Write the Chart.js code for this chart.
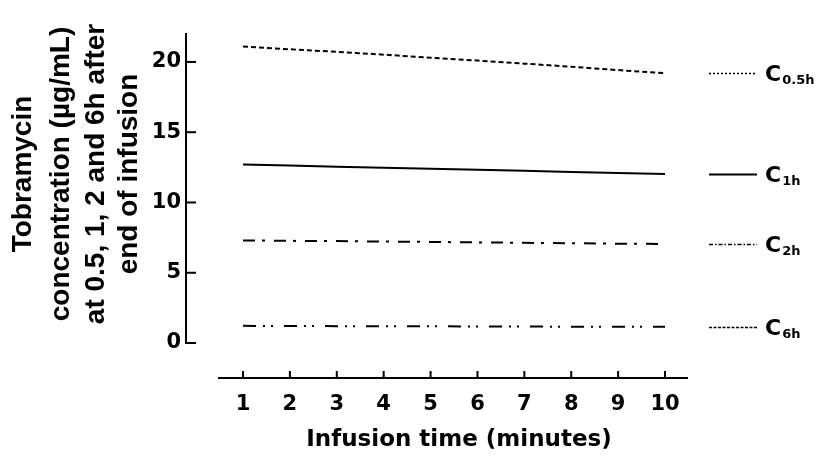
<!DOCTYPE html>
<html>
<head>
<meta charset="utf-8">
<script src="https://cdn.jsdelivr.net/npm/chart.js@4.4.1/dist/chart.umd.min.js"></script>
<style>
  html, body { margin: 0; padding: 0; background: #ffffff; }
  #wrap { width: 832px; height: 456px; }
</style>
</head>
<body>
<div id="wrap"><canvas id="chart" width="832" height="456"></canvas></div>
<script>
// Infusion time (minutes) on the x axis
const infusionMinutes = [1, 2, 3, 4, 5, 6, 7, 8, 9, 10];

// Tobramycin concentration (µg/mL) at each sampling time after end of infusion
const c05h = [21.1, 20.9, 20.72, 20.52, 20.3, 20.1, 19.88, 19.66, 19.42, 19.2];
const c1h  = [12.7, 12.63, 12.55, 12.48, 12.4, 12.33, 12.25, 12.17, 12.1, 12.02];
const c2h  = [7.3, 7.27, 7.25, 7.22, 7.19, 7.16, 7.13, 7.1, 7.07, 7.05];
const c6h  = [1.22, 1.21, 1.2, 1.2, 1.19, 1.18, 1.17, 1.16, 1.15, 1.15];

// Subscripts of the series labels (C with subscript)
const seriesSubscripts = ['0.5h', '1h', '2h', '6h'];

// Tick values
const xTickValues = [1, 2, 3, 4, 5, 6, 7, 8, 9, 10];
const yTickValues = [0, 5, 10, 15, 20];

// Axis titles
const xTitle = 'Infusion time (minutes)';
const yTitleLines = ['Tobramycin', 'concentration (\u00b5g/mL)', 'at 0.5, 1, 2 and 6h after', 'end of infusion'];

const seriesValues = [c05h, c1h, c2h, c6h];
const lineStyles = [
  { width: 2,   dash: [5, 3],               keyDash: [2, 2],          keyWidth: 1.5 },
  { width: 2,   dash: [],                   keyDash: [],              keyWidth: 2 },
  { width: 2,   dash: [12, 7, 3, 9],        keyDash: [4, 2, 1.5, 2],  keyWidth: 1.3 },
  { width: 2,   dash: [13, 7, 2, 6, 2, 11], keyDash: [3, 1.5],        keyWidth: 1.3 }
];

const TICK_FONT = { family: 'DejaVu Sans', weight: 'bold', size: 21 };

// Axis lines, inward tick marks, titles and the line key at the right
const decorations = {
  id: 'decorations',
  afterDraw(chart) {
    const ctx = chart.ctx;
    const xs = chart.scales.x, ys = chart.scales.y;
    const area = chart.chartArea;
    ctx.save();
    ctx.strokeStyle = '#000';
    ctx.fillStyle = '#000';
    ctx.lineWidth = 2;
    ctx.setLineDash([]);

    // y axis
    const yAxisX = area.left;
    ctx.beginPath();
    ctx.moveTo(yAxisX, area.top);
    ctx.lineTo(yAxisX, ys.getPixelForValue(0) + 1);
    ctx.stroke();
    yTickValues.forEach(v => {
      const py = ys.getPixelForValue(v);
      ctx.beginPath();
      ctx.moveTo(yAxisX, py);
      ctx.lineTo(yAxisX + 10, py);
      ctx.stroke();
    });

    // x axis (offset below the y axis)
    const xAxisY = area.bottom;
    ctx.beginPath();
    ctx.moveTo(area.left + 32, xAxisY);
    ctx.lineTo(area.right, xAxisY);
    ctx.stroke();
    xTickValues.forEach(v => {
      const px = xs.getPixelForValue(v);
      ctx.beginPath();
      ctx.moveTo(px, xAxisY);
      ctx.lineTo(px, xAxisY - 7);
      ctx.stroke();
    });

    // x title
    ctx.font = 'bold 23px "DejaVu Sans"';
    ctx.textAlign = 'center';
    ctx.textBaseline = 'middle';
    ctx.fillText(xTitle, 459, 440);

    // y title, rotated
    ctx.font = 'bold 28px "Liberation Sans"';
    ctx.textBaseline = 'alphabetic';
    const baselines = [31, 69, 104, 137];
    yTitleLines.forEach((line, i) => {
      ctx.save();
      ctx.translate(baselines[i], 174);
      ctx.rotate(-Math.PI / 2);
      ctx.fillText(line, 0, 0);
      ctx.restore();
    });

    // line key
    seriesValues.forEach((vals, i) => {
      const py = Math.round(ys.getPixelForValue(vals[vals.length - 1])) + 0.5;
      const st = lineStyles[i];
      ctx.lineWidth = st.keyWidth;
      ctx.setLineDash(st.keyDash);
      ctx.beginPath();
      ctx.moveTo(709, py);
      ctx.lineTo(757, py);
      ctx.stroke();
      ctx.setLineDash([]);
      ctx.textAlign = 'left';
      ctx.textBaseline = 'alphabetic';
      ctx.font = 'bold 22px "DejaVu Sans"';
      ctx.fillText('C', 765, py + 7.5);
      const cw = ctx.measureText('C').width;
      ctx.font = 'bold 13px "DejaVu Sans"';
      ctx.fillText(seriesSubscripts[i], 765 + cw + 1, py + 10.5);
    });
    ctx.restore();
  }
};

new Chart(document.getElementById('chart'), {
  type: 'line',
  data: {
    datasets: seriesValues.map((vals, i) => ({
      label: 'C' + seriesSubscripts[i],
      data: infusionMinutes.map((m, j) => ({ x: m, y: vals[j] })),
      borderColor: '#000',
      borderWidth: lineStyles[i].width,
      borderDash: lineStyles[i].dash,
      pointRadius: 0,
      fill: false,
      tension: 0
    }))
  },
  options: {
    responsive: false,
    animation: false,
    devicePixelRatio: 1,
    layout: { padding: { left: 0, right: 144, top: 33, bottom: 0 } },
    plugins: { legend: { display: false }, tooltip: { enabled: false } },
    scales: {
      x: {
        type: 'linear',
        min: -0.2156,
        max: 10.49,
        afterBuildTicks: s => { s.ticks = xTickValues.map(v => ({ value: v })); },
        afterFit: s => { s.height = 78; },
        grid: { display: false, drawTicks: false },
        border: { display: false },
        ticks: { font: TICK_FONT, color: '#000', padding: 14, maxRotation: 0, autoSkip: false }
      },
      y: {
        min: -2.49,
        max: 22.06,
        afterBuildTicks: s => { s.ticks = yTickValues.map(v => ({ value: v })); },
        afterFit: s => { s.width = 186; },
        grid: { display: false, drawTicks: false },
        border: { display: false },
        ticks: { font: TICK_FONT, color: '#000', padding: 5 }
      }
    }
  },
  plugins: [decorations]
});
</script>
</body>
</html>
